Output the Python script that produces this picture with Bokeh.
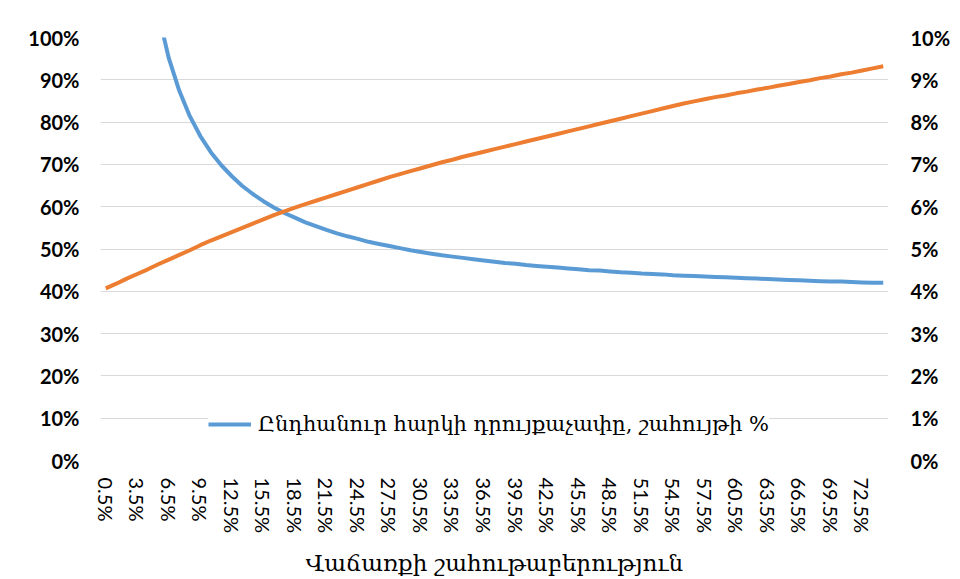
from bokeh.plotting import figure
from bokeh.models import (Range1d, LinearAxis, FixedTicker, PrintfTickFormatter,
                          Legend, LegendItem, ColumnDataSource, BoxAnnotation)
from bokeh.embed import file_html
from bokeh.resources import INLINE

# Sales profitability categories (x axis)
profitability = [
    "0.5%", "1.5%", "2.5%", "3.5%", "4.5%", "5.5%", "6.5%", "7.5%", "8.5%", "9.5%",
    "10.5%", "11.5%", "12.5%", "13.5%", "14.5%", "15.5%", "16.5%", "17.5%", "18.5%", "19.5%",
    "20.5%", "21.5%", "22.5%", "23.5%", "24.5%", "25.5%", "26.5%", "27.5%", "28.5%", "29.5%",
    "30.5%", "31.5%", "32.5%", "33.5%", "34.5%", "35.5%", "36.5%", "37.5%", "38.5%", "39.5%",
    "40.5%", "41.5%", "42.5%", "43.5%", "44.5%", "45.5%", "46.5%", "47.5%", "48.5%", "49.5%",
    "50.5%", "51.5%", "52.5%", "53.5%", "54.5%", "55.5%", "56.5%", "57.5%", "58.5%", "59.5%",
    "60.5%", "61.5%", "62.5%", "63.5%", "64.5%", "65.5%", "66.5%", "67.5%", "68.5%", "69.5%",
    "70.5%", "71.5%", "72.5%", "73.5%", "74.5%",
]

# Total tax rate, % of profit (left axis)
tax_rate_of_profit = [
    794.0, 289.2, 188.3, 145.0, 121.0, 105.7, 95.1, 87.4, 81.4, 76.7,
    72.9, 69.8, 67.2, 64.9, 63.0, 61.3, 59.8, 58.5, 57.4, 56.3,
    55.4, 54.5, 53.7, 53.0, 52.4, 51.7, 51.2, 50.7, 50.2, 49.7,
    49.3, 48.9, 48.5, 48.2, 47.9, 47.6, 47.3, 47.0, 46.7, 46.5,
    46.2, 46.0, 45.8, 45.6, 45.4, 45.2, 45.0, 44.9, 44.7, 44.5,
    44.4, 44.2, 44.1, 44.0, 43.8, 43.7, 43.6, 43.5, 43.4, 43.3,
    43.2, 43.1, 43.0, 42.9, 42.8, 42.7, 42.6, 42.5, 42.4, 42.3,
    42.3, 42.2, 42.1, 42.0, 42.0,
]

# Second series (right axis, %)
tax_rate_right = [
    4.07, 4.18, 4.30, 4.41, 4.52, 4.64, 4.75, 4.86, 4.97, 5.09,
    5.20, 5.30, 5.40, 5.50, 5.60, 5.70, 5.80, 5.89, 5.98, 6.06,
    6.14, 6.22, 6.30, 6.38, 6.46, 6.54, 6.62, 6.70, 6.77, 6.84,
    6.91, 6.98, 7.05, 7.11, 7.18, 7.24, 7.30, 7.36, 7.42, 7.48,
    7.54, 7.60, 7.66, 7.72, 7.78, 7.84, 7.90, 7.96, 8.02, 8.08,
    8.14, 8.20, 8.26, 8.32, 8.38, 8.44, 8.49, 8.54, 8.59, 8.63,
    8.68, 8.72, 8.77, 8.81, 8.86, 8.90, 8.95, 8.99, 9.04, 9.08,
    9.13, 9.17, 9.22, 9.27, 9.32,
]

left_ticks = [0, 10, 20, 30, 40, 50, 60, 70, 80, 90, 100]
right_ticks = [0, 1, 2, 3, 4, 5, 6, 7, 8, 9, 10]
label_step = 3

legend_label = "Ընդհանուր հարկի դրույքաչափը, շահույթի %"
x_title = "Վաճառքի շահութաբերություն"

idx = list(range(len(profitability)))
src = ColumnDataSource(dict(x=idx, blue=tax_rate_of_profit, orange=tax_rate_right))

p = figure(width=960, height=579, output_backend="svg", toolbar_location=None,
           x_range=Range1d(-0.5, len(profitability) - 0.5),
           y_range=Range1d(left_ticks[0], left_ticks[-1]),
           min_border_left=100, min_border_right=72, min_border_top=37,
           min_border_bottom=119)
p.extra_y_ranges = {"right": Range1d(right_ticks[0], right_ticks[-1])}

p.outline_line_color = None
p.background_fill_color = "white"
p.border_fill_color = "white"

p.xgrid.grid_line_color = None
p.ygrid.grid_line_color = "#D9D9D9"
p.ygrid.grid_line_width = 1

label_font = "Lato"

# left axis
ya = p.yaxis[0]
ya.ticker = FixedTicker(ticks=left_ticks)
ya.formatter = PrintfTickFormatter(format="%d%%")
ya.axis_line_color = None
ya.major_tick_line_color = None
ya.minor_tick_line_color = None
ya.major_label_text_font = label_font
ya.major_label_text_font_style = "bold"
ya.major_label_text_font_size = "20px"
ya.major_label_text_color = "#000000"
ya.major_label_standoff = 15

# right axis
ra = LinearAxis(y_range_name="right")
ra.ticker = FixedTicker(ticks=right_ticks)
ra.formatter = PrintfTickFormatter(format="%d%%")
ra.axis_line_color = None
ra.major_tick_line_color = None
ra.minor_tick_line_color = None
ra.major_label_text_font = label_font
ra.major_label_text_font_style = "bold"
ra.major_label_text_font_size = "20px"
ra.major_label_text_color = "#000000"
ra.major_label_standoff = 16
p.add_layout(ra, "right")

# bottom axis
xa = p.xaxis[0]
shown = idx[::label_step]
xa.ticker = FixedTicker(ticks=shown)
xa.major_label_overrides = {i: profitability[i] for i in shown}
xa.major_label_orientation = "vertical"
xa.axis_line_color = None
xa.major_tick_line_color = None
xa.minor_tick_line_color = None
xa.major_label_text_font = label_font
xa.major_label_text_font_size = "20px"
xa.major_label_text_color = "#000000"
xa.major_label_standoff = 11
xa.axis_label = x_title
xa.axis_label_text_font = "DejaVu Serif"
xa.axis_label_text_font_style = "normal"
xa.axis_label_text_font_size = "23px"
xa.axis_label_text_color = "#000000"
xa.axis_label_standoff = 14

blue = p.line("x", "blue", source=src, line_color="#5B9BD5", line_width=4)
orange = p.line("x", "orange", source=src, line_color="#ED7D31", line_width=4,
                y_range_name="right")

legend = Legend(items=[LegendItem(label=legend_label, renderers=[blue])],
                location=(108, 24), orientation="horizontal",
                background_fill_color="white", background_fill_alpha=1.0,
                border_line_color=None, glyph_width=43, glyph_height=20,
                label_standoff=7, padding=4, margin=0,
                label_text_font="DejaVu Serif", label_text_font_size="21px",
                label_text_color="#000000")
p.add_layout(legend, "center")

# light outer chart border (left and top edges visible in the reference)
border = BoxAnnotation(left=7, right=965, top=8, bottom=590,
                       left_units="canvas", right_units="canvas",
                       top_units="canvas", bottom_units="canvas",
                       fill_alpha=0, line_color="#D9D9D9", line_width=2,
                       level="overlay")
p.add_layout(border)

open("out.html", "w").write(file_html(p, INLINE))
